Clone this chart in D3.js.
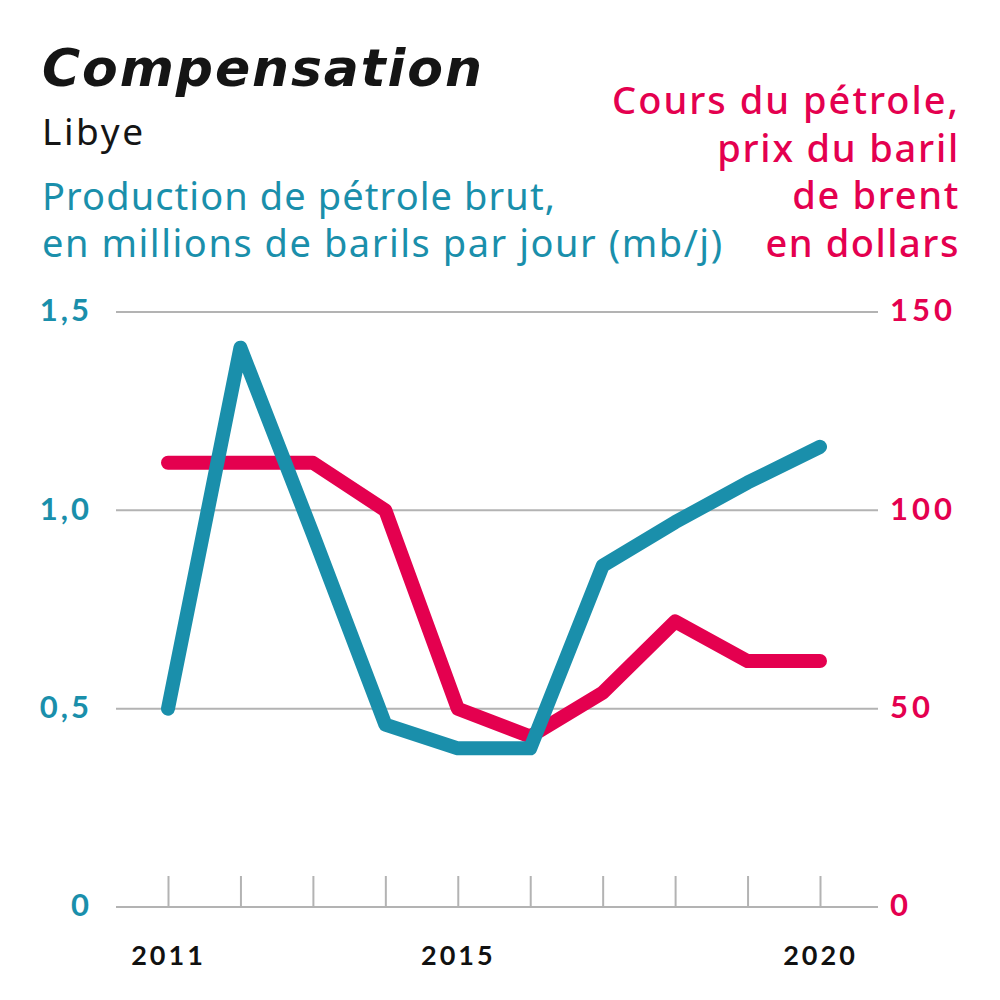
<!DOCTYPE html>
<html>
<head>
<meta charset="utf-8">
<script src="https://cdn.jsdelivr.net/npm/d3@7"></script>
<style>
  html, body { margin: 0; padding: 0; background: #fff; }
  svg { display: block; }
</style>
</head>
<body>
<svg id="chart" width="1000" height="1000"></svg>
<script>
// ---- data ----
const years = [2011, 2012, 2013, 2014, 2015, 2016, 2017, 2018, 2019, 2020];
const production = [0.50, 1.41, 0.94, 0.46, 0.40, 0.40, 0.86, 0.97, 1.07, 1.16];
const brent = [112, 112, 112, 100, 50, 43, 54, 72, 62, 62];
const leftTicks = [0, 0.5, 1.0, 1.5];
const leftTickLabels = ["0", "0,5", "1,0", "1,5"];
const rightTicks = [0, 50, 100, 150];
const rightTickLabels = ["0", "50", "100", "150"];
const labelYears = [2011, 2015, 2020];

const title = "Compensation";
const subtitle = "Libye";
const leftTitle = ["Production de pétrole brut,", "en millions de barils par jour (mb/j)"];
const rightTitle = ["Cours du pétrole,", "prix du baril", "de brent", "en dollars"];

// ---- layout / styles ----
const BLUE = "#1a8fab";
const RED = "#e4004f";
const GRID = "#b3b3b3";
const textFont = "'Noto Sans', 'Open Sans', sans-serif";
const numFont = "Lato, 'Noto Sans', sans-serif";
const leftTitleWidths = [513, 680];
const rightTitleWidths = [346, 241, 166, 193];

const svg = d3.select("#chart");

function fitSpacing(sel, target) {
  sel.each(function (d, i) {
    const t = Array.isArray(target) ? target[i] : target;
    const w = this.getComputedTextLength();
    const n = this.textContent.length;
    const ls = (t - w) / Math.max(1, n - 1);
    d3.select(this).attr("letter-spacing", ls.toFixed(2));
  });
}

const x = d3.scaleLinear().domain([2011, 2020]).range([168, 820]);
const yL = d3.scaleLinear().domain([0, 1.5]).range([907, 312]);
const yR = d3.scaleLinear().domain([0, 150]).range([907, 312]);

// gridlines
svg.append("g").selectAll("line").data(leftTicks).join("line")
  .attr("x1", 116).attr("x2", 878)
  .attr("y1", d => yL(d)).attr("y2", d => yL(d))
  .attr("stroke", GRID).attr("stroke-width", 2);

// x tick marks (upward)
const xTicks = svg.append("g").attr("transform", `translate(0,${yL(0)})`)
  .call(d3.axisTop(x).tickValues(years).tickSize(31).tickFormat(""));
xTicks.select(".domain").remove();
xTicks.selectAll(".tick line").attr("stroke", GRID).attr("stroke-width", 2);

// x labels
const xLab = svg.append("g").attr("transform", `translate(0,${yL(0)})`)
  .call(d3.axisBottom(x).tickValues(labelYears).tickSize(0).tickPadding(0).tickFormat(d3.format("d")));
xLab.select(".domain").remove();
xLab.selectAll("text")
  .attr("y", 58).attr("dy", null)
  .attr("font-family", numFont).attr("font-weight", 700).attr("font-size", 27)
  .attr("letter-spacing", 3)
  .attr("fill", "#111");

// left axis labels
const lAx = svg.append("g").attr("transform", "translate(100,0)")
  .call(d3.axisLeft(yL).tickValues(leftTicks).tickSize(0).tickPadding(8)
    .tickFormat((d, i) => leftTickLabels[i]));
lAx.select(".domain").remove();
lAx.selectAll("text")
  .attr("font-family", numFont).attr("font-weight", 700).attr("font-size", 31)
  .attr("letter-spacing", 3)
  .attr("dy", "0.28em")
  .attr("fill", BLUE);

// right axis labels
const rAx = svg.append("g").attr("transform", "translate(880,0)")
  .call(d3.axisRight(yR).tickValues(rightTicks).tickSize(0).tickPadding(10)
    .tickFormat((d, i) => rightTickLabels[i]));
rAx.select(".domain").remove();
rAx.selectAll("text")
  .attr("font-family", numFont).attr("font-weight", 700).attr("font-size", 31)
  .attr("letter-spacing", 4)
  .attr("dy", "0.28em")
  .attr("fill", RED);

// lines
const lineProd = d3.line().x((d, i) => x(years[i])).y(d => yL(d));
const lineBrent = d3.line().x((d, i) => x(years[i])).y(d => yR(d));

svg.append("path").datum(brent)
  .attr("d", lineBrent)
  .attr("fill", "none").attr("stroke", RED).attr("stroke-width", 14)
  .attr("stroke-linecap", "round").attr("stroke-linejoin", "round");

svg.append("path").datum(production)
  .attr("d", lineProd)
  .attr("fill", "none").attr("stroke", BLUE).attr("stroke-width", 14)
  .attr("stroke-linecap", "round").attr("stroke-linejoin", "round");

// titles
svg.append("text").text(title)
  .attr("x", 42).attr("y", 86)
  .attr("font-family", "'DejaVu Sans', Lato, sans-serif")
  .attr("font-weight", 700).attr("font-style", "italic")
  .attr("font-size", 52).attr("fill", "#151515")
  .call(fitSpacing, 440);

svg.append("text").text(subtitle)
  .attr("x", 42).attr("y", 145)
  .attr("font-family", textFont).attr("font-size", 37).attr("fill", "#151515")
  .call(fitSpacing, 101);

svg.append("g").selectAll("text").data(leftTitle).join("text")
  .text(d => d)
  .attr("x", 42).attr("y", (d, i) => 210 + i * 47)
  .attr("font-family", textFont).attr("font-size", 38).attr("fill", BLUE)
  .call(fitSpacing, leftTitleWidths);

svg.append("g").selectAll("text").data(rightTitle).join("text")
  .text(d => d)
  .attr("x", 960).attr("y", (d, i) => 114 + i * 47.5)
  .attr("text-anchor", "end")
  .attr("font-family", textFont).attr("font-weight", 500)
  .attr("font-size", 38).attr("fill", RED)
  .call(fitSpacing, rightTitleWidths);
</script>
</body>
</html>
